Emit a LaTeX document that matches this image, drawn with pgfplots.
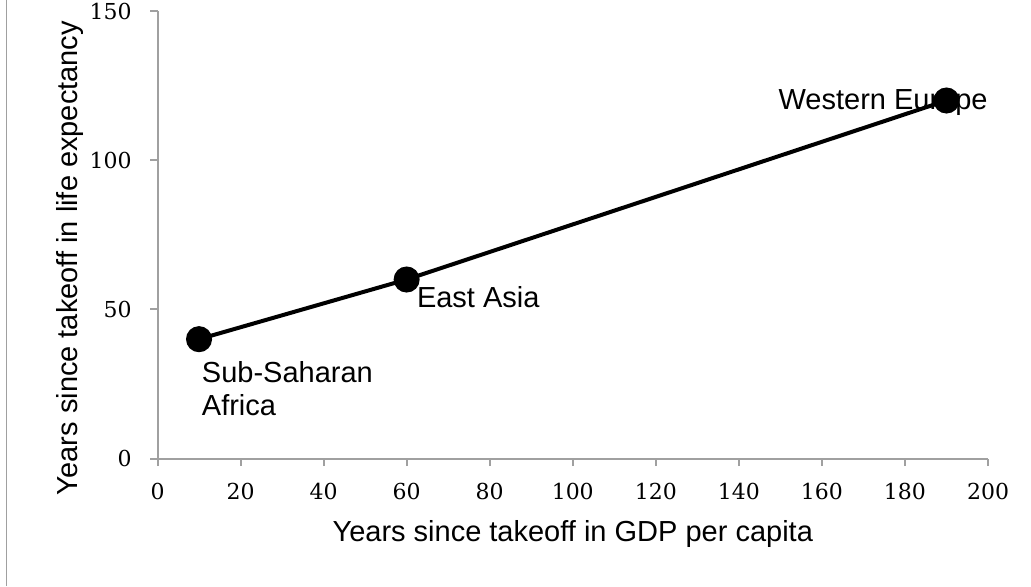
\documentclass[border=0pt]{standalone}
\usepackage{fontspec}
\setmainfont{Liberation Sans}
\newfontfamily\tickfont{DejaVu Serif}
\usepackage{pgfplots}
\pgfplotsset{compat=1.18}
\definecolor{axgray}{RGB}{160,160,160}
\begin{document}
\begin{tikzpicture}[x=1pt,y=1pt]
\path[use as bounding box] (0,0) rectangle (515.5,293);
\draw[axgray, line width=0.65pt] (3.4,0) -- (3.4,293);
\begin{axis}[
  at={(78.75pt,63.75pt)}, anchor=south west,
  width=415.25pt, height=223.75pt, scale only axis,
  xmin=0, xmax=200, ymin=0, ymax=150,
  xtick={0,20,...,200}, ytick={0,50,100,150},
  axis x line*=bottom, axis y line*=left,
  axis line style={axgray, line width=1pt, -},
  tick style={axgray, line width=1pt},
  tick align=outside, major tick length=3.75pt,
  clip=false,
  /pgf/number format/assume math mode=true,
  every tick label/.append style={font=\tickfont\fontsize{11}{13}\selectfont},
  xticklabel style={text=black, inner sep=0pt, anchor=north, yshift=-8.5pt},
  yticklabel style={text=black, inner sep=0pt, anchor=east, xshift=-9pt},
  xlabel={Years since takeoff in GDP per capita},
  ylabel={Years since takeoff in life expectancy},
  label style={font=\fontsize{14.5}{16.5}\selectfont},
  xlabel style={at={(rel axis cs:0.5,0)}, anchor=north, yshift=-27.25pt},
  ylabel style={at={([xshift=-33.25pt]rel axis cs:0,0.448)}, anchor=south, rotate=0},
]
\addplot[black, line width=2pt, mark=*, mark size=5.5pt] coordinates {(10,40) (60,60) (190,120)};
\node[anchor=north west, inner sep=0pt, align=left, font=\fontsize{14.5}{16.5}\selectfont] at (axis cs:10.6,32.7) {Sub-Saharan\\Africa};
\node[anchor=north west, inner sep=0pt, font=\fontsize{14.5}{16.5}\selectfont] at (axis cs:62.4,57.65) {East Asia};
\node[anchor=north east, inner sep=0pt, font=\fontsize{14.5}{16.5}\selectfont] at (axis cs:200,123.7) {Western Europe};
\end{axis}
\end{tikzpicture}
\end{document}
